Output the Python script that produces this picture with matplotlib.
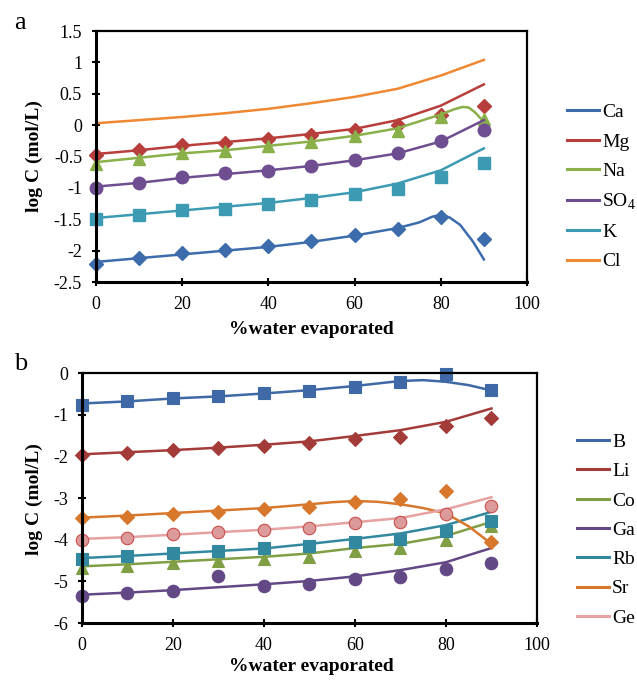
import matplotlib
matplotlib.use("Agg")
from matplotlib import pyplot as plt
from matplotlib.lines import Line2D

plt.rcParams['font.family'] = ['Liberation Serif', 'DejaVu Serif']
plt.rcParams['mathtext.fontset'] = 'custom'
plt.rcParams['mathtext.rm'] = 'Liberation Serif'

# measured points (markers)
x_pts = [0, 10, 20, 30, 40, 50, 60, 70, 80, 90]

ca_pts = [-2.21, -2.11, -2.03, -1.99, -1.93, -1.84, -1.75, -1.66, -1.46, -1.82]
mg_pts = [-0.47, -0.39, -0.31, -0.28, -0.22, -0.15, -0.07, 0.0, 0.16, 0.31]
na_pts = [-0.62, -0.54, -0.45, -0.41, -0.34, -0.27, -0.17, -0.09, 0.13, 0.10]
so4_pts = [-1.0, -0.92, -0.83, -0.77, -0.73, -0.65, -0.56, -0.45, -0.25, -0.08]
k_pts = [-1.5, -1.43, -1.35, -1.33, -1.26, -1.19, -1.09, -1.02, -0.82, -0.60]

b_pts = [-0.77, -0.67, -0.59, -0.54, -0.49, -0.42, -0.33, -0.22, -0.02, -0.41]
li_pts = [-1.97, -1.93, -1.85, -1.80, -1.74, -1.69, -1.58, -1.54, -1.27, -1.09]
co_pts = [-4.68, -4.64, -4.57, -4.52, -4.46, -4.41, -4.27, -4.21, -4.00, -3.68]
ga_pts = [-5.34, -5.28, -5.22, -4.88, -5.11, -5.06, -4.95, -4.89, -4.71, -4.55]
rb_pts = [-4.47, -4.40, -4.31, -4.26, -4.20, -4.15, -4.05, -3.99, -3.79, -3.55]
sr_pts = [-3.49, -3.45, -3.38, -3.33, -3.26, -3.21, -3.09, -3.02, -2.83, -4.05]
ge_pts = [-4.0, -3.95, -3.87, -3.82, -3.77, -3.71, -3.61, -3.57, -3.38, -3.18]

# model curves (lines)
x_fit = [0, 10, 20, 30, 40, 50, 60, 70, 80, 90]

ca_fit_x = [0, 10, 20, 30, 40, 50, 60, 70, 75, 78, 80, 82, 84.5, 87.5, 90]
ca_fit = [-2.18, -2.12, -2.06, -2.00, -1.94, -1.86, -1.76, -1.64, -1.55, -1.46, -1.43, -1.47, -1.59, -1.86, -2.14]
mg_fit = [-0.46, -0.40, -0.33, -0.27, -0.21, -0.14, -0.06, 0.08, 0.31, 0.65]
na_fit_x = [0, 10, 20, 30, 40, 50, 60, 70, 80, 83, 85, 86.5, 88, 90]
na_fit = [-0.59, -0.52, -0.45, -0.40, -0.33, -0.26, -0.17, -0.05, 0.17, 0.25, 0.29, 0.28, 0.20, 0.05]
so4_fit = [-0.98, -0.92, -0.84, -0.78, -0.72, -0.65, -0.56, -0.45, -0.26, 0.08]
k_fit = [-1.48, -1.42, -1.36, -1.30, -1.24, -1.16, -1.07, -0.93, -0.72, -0.37]
cl_fit = [0.03, 0.08, 0.13, 0.19, 0.26, 0.35, 0.45, 0.58, 0.79, 1.04]

b_fit_x = [0, 10, 20, 30, 40, 50, 60, 70, 75, 80, 85, 90]
b_fit = [-0.73, -0.68, -0.61, -0.56, -0.49, -0.41, -0.31, -0.19, -0.17, -0.21, -0.29, -0.42]
li_fit = [-1.95, -1.90, -1.85, -1.79, -1.72, -1.64, -1.51, -1.37, -1.17, -0.85]
co_fit = [-4.64, -4.59, -4.53, -4.47, -4.41, -4.33, -4.20, -4.10, -3.91, -3.57]
ga_fit = [-5.32, -5.27, -5.21, -5.14, -5.07, -4.99, -4.88, -4.73, -4.54, -4.20]
rb_fit = [-4.44, -4.39, -4.33, -4.27, -4.21, -4.10, -3.98, -3.85, -3.65, -3.33]
sr_fit_x = [0, 10, 20, 30, 40, 50, 55, 60, 65, 70, 75, 80, 85, 90]
sr_fit = [-3.47, -3.42, -3.36, -3.30, -3.24, -3.15, -3.10, -3.07, -3.09, -3.15, -3.24, -3.37, -3.68, -4.10]
ge_fit = [-3.98, -3.94, -3.88, -3.82, -3.76, -3.68, -3.58, -3.48, -3.27, -2.98]

fig = plt.figure(figsize=(6.37, 6.83), dpi=100)
ax_a = fig.add_axes([0.1507, 0.5871, 0.6766, 0.3675])
ax_b = fig.add_axes([0.1287, 0.0878, 0.7143, 0.366])


def style_axes(ax):
    for side, w in (('left', 2.2), ('bottom', 2.2), ('top', 1.6), ('right', 1.6)):
        ax.spines[side].set_linewidth(w)
        ax.spines[side].set_color('black')
    ax.tick_params(direction='inout', length=6, width=1.5, labelsize=13, pad=7)
    ax.set_xlim(0, 100)
    ax.set_xticks([0, 20, 40, 60, 80, 100])
    ax.set_xlabel('%water evaporated', fontsize=14, fontweight='bold')
    ax.set_ylabel('log C (mol/L)', fontsize=14, fontweight='bold')


lw = 1.8

# panel a
a_series = [
    ('Ca', '#3D6CAC', x_pts, ca_pts, ca_fit_x, ca_fit, 'D', 7),
    ('Mg', '#B83E3C', x_pts, mg_pts, x_fit, mg_fit, 'D', 7),
    ('Na', '#8AB04A', x_pts, na_pts, na_fit_x, na_fit, '^', 9),
    ('SO$_\\mathregular{4}$', '#6E4E91', x_pts, so4_pts, x_fit, so4_fit, 'o', 9),
    ('K', '#3C9AB3', x_pts, k_pts, x_fit, k_fit, 's', 8.5),
]
for name, col, xp, yp, xf, yf, mk, msz in a_series:
    ax_a.plot(xf, yf, color=col, lw=lw)
    ax_a.plot(xp, yp, ls='none', marker=mk, ms=msz, color=col, mec=col, clip_on=False)
ax_a.plot(x_fit, cl_fit, color='#EE8833', lw=lw)

style_axes(ax_a)
ax_a.set_ylim(-2.5, 1.5)
ax_a.set_yticks([-2.5, -2, -1.5, -1, -0.5, 0, 0.5, 1, 1.5])
ax_a.set_yticklabels(['-2.5', '-2', '-1.5', '-1', '-0.5', '0', '0.5', '1', '1.5'])
ax_a.xaxis.set_label_coords(0.5, -0.155)
ax_a.yaxis.set_label_coords(-0.123, 0.5)

a_handles = [Line2D([], [], color=c, lw=2.2) for c in
             ['#3D6CAC', '#B83E3C', '#8AB04A', '#6E4E91', '#3C9AB3', '#EE8833']]
a_labels = ['Ca', 'Mg', 'Na', 'SO$_\\mathregular{4}$', 'K', 'Cl']
fig.legend(a_handles, a_labels, loc='center left', bbox_to_anchor=(567 / 637, 1 - 187 / 683),
           frameon=False, fontsize=14, borderpad=0, borderaxespad=0,
           handlelength=1.65, handletextpad=0.15, labelspacing=0.6)

# panel b
b_series = [
    ('B', '#3E69A6', x_pts, b_pts, b_fit_x, b_fit, 's', 8.5, '#3E69A6'),
    ('Li', '#A33B39', x_pts, li_pts, x_fit, li_fit, 'D', 7, '#A33B39'),
    ('Co', '#809F45', x_pts, co_pts, x_fit, co_fit, '^', 9, '#809F45'),
    ('Ga', '#634886', x_pts, ga_pts, x_fit, ga_fit, 'o', 9, '#634886'),
    ('Rb', '#32899F', x_pts, rb_pts, x_fit, rb_fit, 's', 8.5, '#32899F'),
    ('Sr', '#D7782D', x_pts, sr_pts, sr_fit_x, sr_fit, 'D', 7, '#D7782D'),
    ('Ge', '#E6A1A1', x_pts, ge_pts, x_fit, ge_fit, 'o', 9, '#C8504E'),
]
for name, col, xp, yp, xf, yf, mk, msz, edge in b_series:
    ax_b.plot(xf, yf, color=col, lw=lw)
    mfc = '#DD9A9A' if name == 'Ge' else col
    ax_b.plot(xp, yp, ls='none', marker=mk, ms=msz, color=mfc, mec=edge, mew=0.8, clip_on=False)

style_axes(ax_b)
ax_b.set_ylim(-6, 0)
ax_b.set_yticks([-6, -5, -4, -3, -2, -1, 0])
ax_b.set_yticklabels(['-6', '-5', '-4', '-3', '-2', '-1', '0'])
ax_b.xaxis.set_label_coords(0.504, -0.14)
ax_b.yaxis.set_label_coords(-0.086, 0.496)

b_handles = [Line2D([], [], color=s[1], lw=2.2) for s in b_series]
b_labels = [s[0] for s in b_series]
fig.legend(b_handles, b_labels, loc='center left', bbox_to_anchor=(577 / 637, 1 - 530 / 683),
           frameon=False, fontsize=14, borderpad=0, borderaxespad=0,
           handlelength=1.65, handletextpad=0.15, labelspacing=0.6)

# panel letters
fig.text(14 / 637, 1 - 29 / 683, 'a', fontsize=19, va='baseline', ha='left')
fig.text(14 / 637, 1 - 370 / 683, 'b', fontsize=19, va='baseline', ha='left')

fig.savefig('out.png', dpi=100)
